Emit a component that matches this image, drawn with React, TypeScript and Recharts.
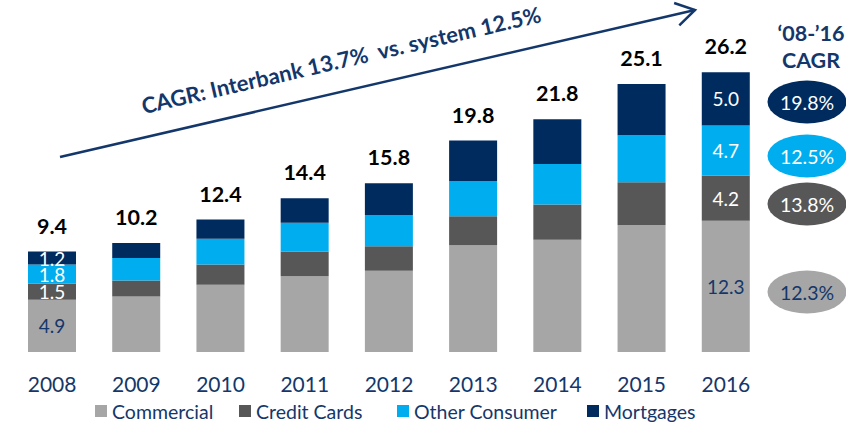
import React from 'react';
import { BarChart, Bar, XAxis, YAxis, Legend, LabelList } from 'recharts';

const years = ['2008', '2009', '2010', '2011', '2012', '2013', '2014', '2015', '2016'];
const commercial = [4.9, 5.2, 6.3, 7.1, 7.6, 10.0, 10.5, 11.9, 12.3];
const creditCards = [1.5, 1.5, 1.9, 2.3, 2.3, 2.7, 3.3, 4.0, 4.2];
const otherConsumer = [1.8, 2.1, 2.4, 2.7, 2.9, 3.3, 3.8, 4.4, 4.7];
const mortgages = [1.2, 1.4, 1.8, 2.3, 3.0, 3.8, 4.2, 4.8, 5.0];
const totals = [9.4, 10.2, 12.4, 14.4, 15.8, 19.8, 21.8, 25.1, 26.2];

const seriesNames = ['Commercial', 'Credit Cards', 'Other Consumer', 'Mortgages'];
const cagrLabels = ['12.3%', '13.8%', '12.5%', '19.8%'];
const cagrHeader = ['‘08-’16', 'CAGR'];
const arrowText = 'CAGR: Interbank 13.7%  vs. system 12.5%';
const labeledYears = [0, 8];

const COLORS = ['#A6A6A6', '#575757', '#00AEEF', '#002B5F'];
const NAVY = '#14376B';
const FONT = 'Lato, "Open Sans", sans-serif';

const data = years.map((y, i) => ({
  year: y,
  commercial: commercial[i],
  credit: creditCards[i],
  other: otherConsumer[i],
  mortgages: mortgages[i],
  total: totals[i],
}));

const segLabel = (fill: string) => (props: any) => {
  const { x, y, width, height, value, index } = props;
  if (!labeledYears.includes(index)) return null;
  return (
    <text
      x={Number(x) + Number(width) / 2}
      y={Number(y) + Number(height) / 2}
      dominantBaseline="central"
      textAnchor="middle"
      fill={fill}
      fontSize={19}
      fontFamily={FONT}
    >
      {Number(value).toFixed(1)}
    </text>
  );
};

const totalLabel = (props: any) => {
  const { x, y, width, value } = props;
  return (
    <text
      x={Number(x) + Number(width) / 2}
      y={Number(y) - 18}
      textAnchor="middle"
      fill="#000"
      fontSize={21.5}
      fontWeight={700}
      fontFamily={FONT}
    >
      {Number(value).toFixed(1)}
    </text>
  );
};

const legendX = [95, 239, 397, 587];

const LegendContent = () => (
  <div style={{ position: 'relative', height: 30, width: 846, fontFamily: FONT }}>
    {seriesNames.map((n, i) => (
      <div
        key={n}
        style={{
          position: 'absolute',
          left: legendX[i],
          top: 8,
          display: 'flex',
          alignItems: 'center',
          height: 20,
          whiteSpace: 'nowrap',
        }}
      >
        <span style={{ display: 'inline-block', width: 12, height: 12, background: COLORS[i], marginRight: 5 }} />
        <span style={{ color: NAVY, fontSize: 19.5 }}>{n}</span>
      </div>
    ))}
  </div>
);

const ellipseCy = [292, 204, 156, 102];

export default function App() {
  const x1 = 60, y1 = 157, x2 = 695, y2 = 10;
  const ang = Math.atan2(y2 - y1, x2 - x1);
  const wing = 22;
  const a1 = ang + Math.PI - 0.55;
  const a2 = ang + Math.PI + 0.55;
  const deg = (ang * 180) / Math.PI;
  return (
    <div style={{ position: 'absolute', left: 0, top: 0, width: 846, height: 423, background: '#fff' }}>
      <BarChart
        width={846}
        height={423}
        data={data}
        margin={{ top: 31.6, right: 78, left: 10, bottom: 0 }}
        barSize={48}
      >
        <YAxis hide domain={[0, 30]} type="number" />
        <XAxis
          xAxisId="grid"
          type="number"
          domain={[0, 9]}
          ticks={[0, 1, 2, 3, 4, 5, 6, 7, 8, 9]}
          tick={false}
          tickSize={7}
          height={0}
          stroke="#6B6B6B"
          strokeWidth={2}
          allowDataOverflow
        />
        <XAxis
          xAxisId="cat"
          dataKey="year"
          axisLine={false}
          tickLine={false}
          tickSize={0}
          tickMargin={25}
          height={41}
          tick={{ fill: NAVY, fontSize: 21, fontFamily: FONT }}
        />
        <Legend verticalAlign="bottom" wrapperStyle={{ left: 0, width: 846 }} content={LegendContent} />
        <Bar xAxisId="cat" dataKey="commercial" stackId="a" fill={COLORS[0]} isAnimationActive={false}>
          <LabelList dataKey="commercial" content={segLabel(NAVY)} />
        </Bar>
        <Bar xAxisId="cat" dataKey="credit" stackId="a" fill={COLORS[1]} isAnimationActive={false}>
          <LabelList dataKey="credit" content={segLabel('#fff')} />
        </Bar>
        <Bar xAxisId="cat" dataKey="other" stackId="a" fill={COLORS[2]} isAnimationActive={false}>
          <LabelList dataKey="other" content={segLabel('#fff')} />
        </Bar>
        <Bar xAxisId="cat" dataKey="mortgages" stackId="a" fill={COLORS[3]} isAnimationActive={false}>
          <LabelList dataKey="mortgages" content={segLabel('#fff')} />
          <LabelList dataKey="total" content={totalLabel} />
        </Bar>
      </BarChart>
      <svg width={846} height={423} style={{ position: 'absolute', left: 0, top: 0, pointerEvents: 'none' }}>
        <line x1={x1} y1={y1} x2={x2} y2={y2} stroke={NAVY} strokeWidth={2.5} />
        <polyline
          points={`${x2 + wing * Math.cos(a1)},${y2 + wing * Math.sin(a1)} ${x2},${y2} ${x2 + wing * Math.cos(a2)},${y2 + wing * Math.sin(a2)}`}
          fill="none"
          stroke={NAVY}
          strokeWidth={2.5}
        />
        <text
          x={343}
          y={68}
          textAnchor="middle"
          fill={NAVY}
          fontSize={22}
          fontWeight={700}
          fontFamily={FONT}
          transform={`rotate(${deg} 343 68)`}
          style={{ whiteSpace: 'pre' }}
        >
          {arrowText}
        </text>
        <text x={811} y={41} textAnchor="middle" fill={NAVY} fontSize={21.5} fontWeight={700} fontFamily={FONT}>
          {cagrHeader[0]}
        </text>
        <text x={811} y={68} textAnchor="middle" fill={NAVY} fontSize={21.5} fontWeight={700} fontFamily={FONT}>
          {cagrHeader[1]}
        </text>
        {cagrLabels.map((t, i) => (
          <g key={t + i}>
            <ellipse cx={807} cy={ellipseCy[i]} rx={39.5} ry={21.5} fill={COLORS[i]} />
            <text
              x={807}
              y={ellipseCy[i]}
              dominantBaseline="central"
              textAnchor="middle"
              fill={i === 0 ? NAVY : '#fff'}
              fontSize={19.5}
              fontFamily={FONT}
            >
              {t}
            </text>
          </g>
        ))}
      </svg>
    </div>
  );
}
